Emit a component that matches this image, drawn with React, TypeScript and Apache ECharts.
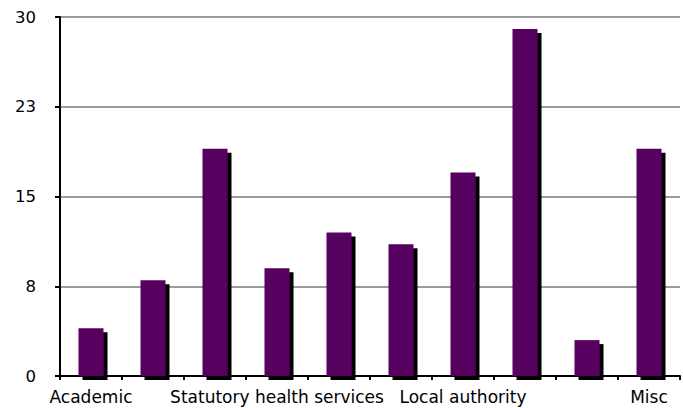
import React, { useEffect, useRef } from "react";
import * as echarts from "echarts";

const categories = [
  "Academic",
  "",
  "",
  "Statutory health services",
  "",
  "",
  "Local authority",
  "",
  "",
  "Misc",
];
const values = [4, 8, 19, 9, 12, 11, 17, 29, 3, 19];
const yMin = 0;
const yMax = 30;
const yInterval = 7.5;

export default function App() {
  const ref = useRef<HTMLDivElement>(null);
  useEffect(() => {
    if (!ref.current) return;
    const chart = echarts.init(ref.current, undefined, { renderer: "svg" });
    const font = "DejaVu Sans, Verdana, sans-serif";
    chart.setOption({
      animation: false,
      backgroundColor: "#ffffff",
      grid: { left: 60, right: 3, top: 17, bottom: 32, containLabel: false },
      xAxis: {
        type: "category",
        data: categories,
        boundaryGap: true,
        axisLine: { show: true, lineStyle: { color: "#000", width: 2 } },
        axisTick: { show: true, length: 4, lineStyle: { color: "#000", width: 2 }, interval: 0 },
        axisLabel: {
          interval: 0,
          color: "#000",
          fontSize: 17,
          fontFamily: font,
          margin: 12,
        },
        splitLine: { show: false },
      },
      yAxis: {
        type: "value",
        min: yMin,
        max: yMax,
        interval: yInterval,
        axisLine: { show: true, lineStyle: { color: "#000", width: 2 } },
        axisTick: { show: true, length: 5, lineStyle: { color: "#000", width: 2 } },
        axisLabel: {
          color: "#000",
          fontSize: 16.5,
          fontFamily: font,
          margin: 24,
          formatter: (v: number) => String(Math.round(v)),
        },
        splitLine: { show: true, lineStyle: { color: "#9a9a9a", width: 2 } },
      },
      series: [
        {
          type: "bar",
          data: values,
          barWidth: 25,
          itemStyle: {
            color: "#57005f",
            shadowColor: "#000",
            shadowOffsetX: 4,
            shadowOffsetY: 4,
            shadowBlur: 0,
          },
        },
      ],
    });
    return () => chart.dispose();
  }, []);
  return (
    <div
      ref={ref}
      style={{ position: "fixed", left: 0, top: 0, width: 683, height: 408, background: "#fff" }}
    />
  );
}
